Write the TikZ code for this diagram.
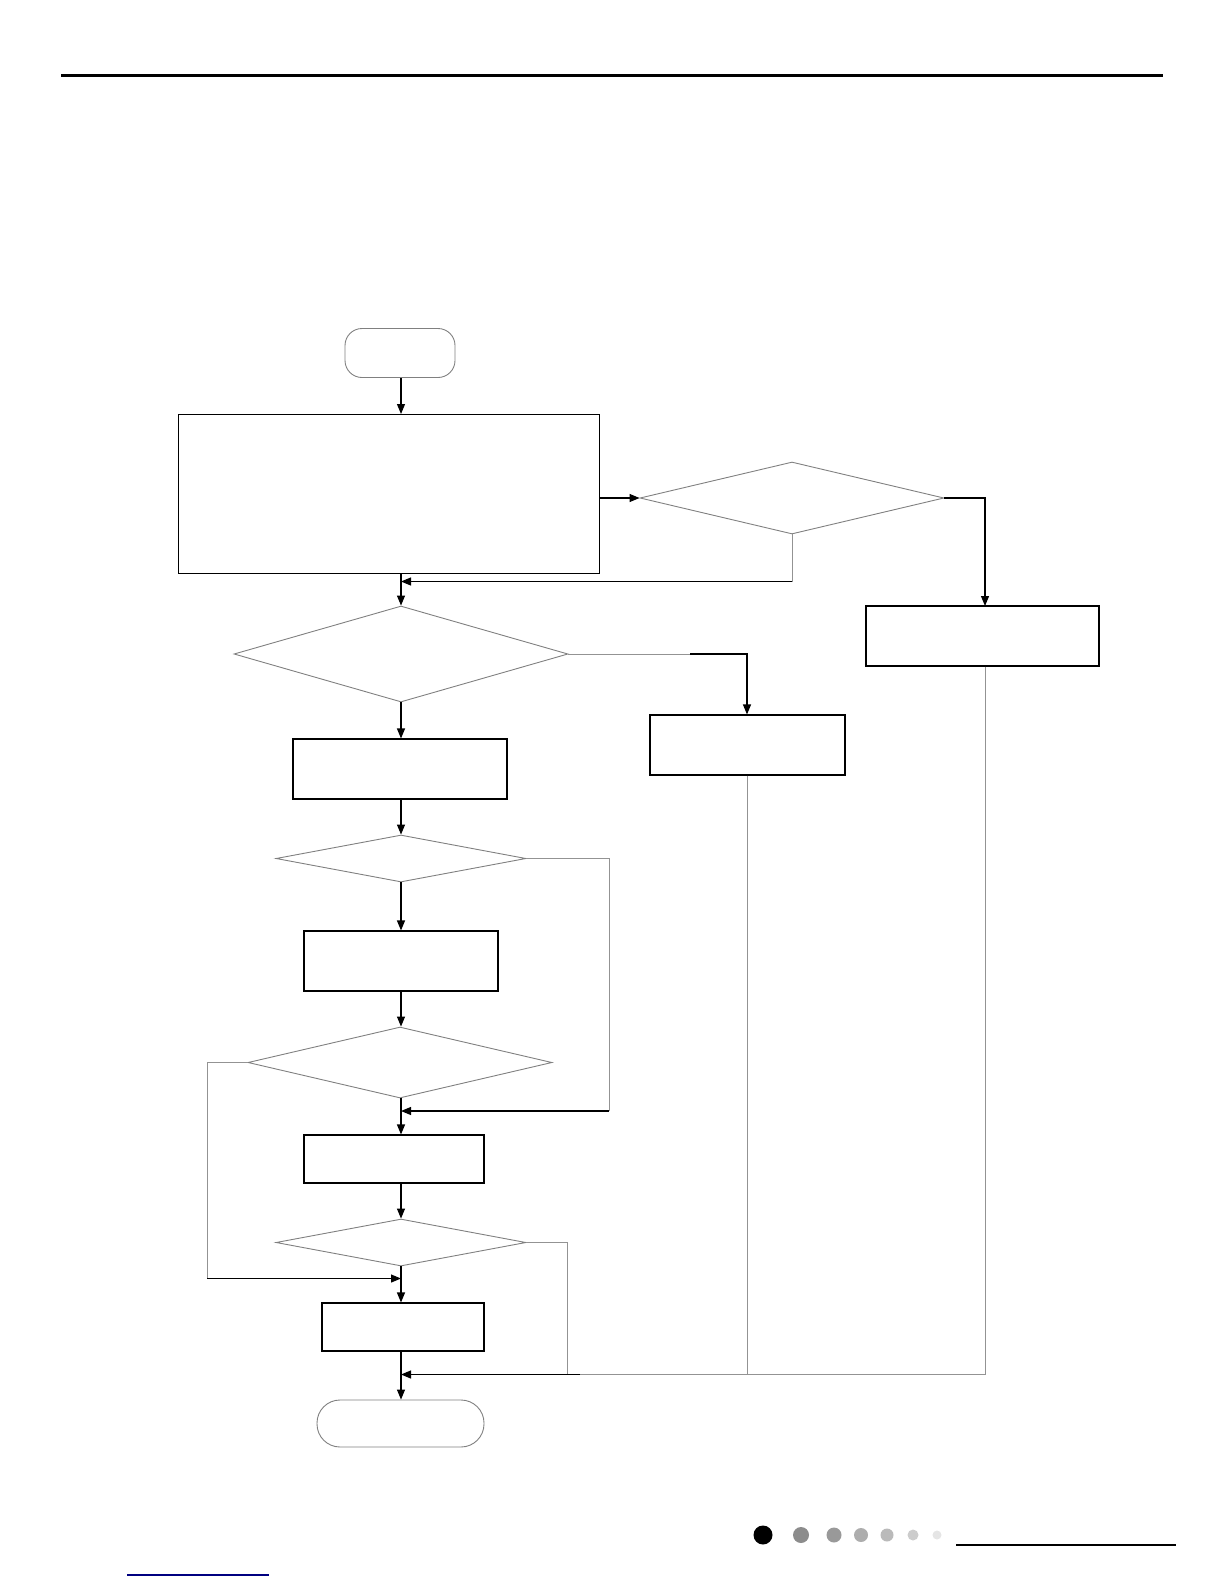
\documentclass[tikz,border=0pt]{standalone}
\usepackage{tikz}
\usetikzlibrary{shapes,arrows.meta,positioning,calc}

\begin{document}
\begin{tikzpicture}[x=1pt, y=-1pt, >={Triangle[length=10pt,width=8pt]},
    proc/.style={draw, rectangle, line width=1.1pt, inner sep=0pt},
    decision/.style={draw=gray, diamond, line width=0.9pt, inner sep=0pt},
    termin/.style={draw=gray, rectangle, line width=0.9pt, inner sep=0pt},
    flow/.style={->, line width=1.1pt},
    feed/.style={draw=gray!85, line width=1pt}]
    \useasboundingbox (0,0) rectangle (1224,1584);
    % page rules
    \draw[line width=3pt] (61,76) -- (1163,76);
    \draw[line width=2.2pt] (956,1545) -- (1176,1545);
    \draw[line width=1.2pt, color=blue!50!black] (127,1575) -- (269,1575);
    \foreach \px/\rr/\shade in {763/9.5/100, 801/8/45, 834/7.5/40, 861/7/32, 887/6.5/27, 913/5.5/20, 937/4.5/10}
        \fill[black!\shade] (\px,1535) circle (\rr);

    % nodes
    \node[termin, rounded corners=17pt, minimum width=110pt, minimum height=49pt] (start) at (400,353) {};
    \node[proc, line width=0.9pt, minimum width=421pt, minimum height=159pt] (init) at (388.5,493.5) {};
    \node[decision, minimum width=304pt, minimum height=72pt] (chkA) at (792,498) {};
    \node[proc, minimum width=233pt, minimum height=60pt] (actA) at (982.5,636) {};
    \node[decision, minimum width=334pt, minimum height=96pt] (chkB) at (401,654) {};
    \node[proc, minimum width=195pt, minimum height=60pt] (actB) at (747.5,745) {};
    \node[proc, minimum width=214pt, minimum height=60pt] (stepA) at (400,769) {};
    \node[decision, minimum width=250pt, minimum height=47pt] (chkC) at (401,858.5) {};
    \node[proc, minimum width=194pt, minimum height=60pt] (stepB) at (401,961) {};
    \node[decision, minimum width=304pt, minimum height=71pt] (chkD) at (400,1062.5) {};
    \node[proc, minimum width=180pt, minimum height=48pt] (stepC) at (394,1159) {};
    \node[decision, minimum width=250pt, minimum height=47pt] (chkE) at (401,1242.5) {};
    \node[proc, minimum width=162pt, minimum height=48pt] (stepD) at (403,1327) {};
    \node[termin, rounded corners=23pt, minimum width=167pt, minimum height=47pt] (stop) at (400.5,1423.5) {};

    % junction points
    \coordinate (jA) at (401,581.5);
    \coordinate (jC) at (401,1111);
    \coordinate (jD) at (401,1278.5);
    \coordinate (jE) at (401,1374.5);

    % main column
    \draw[flow] (401,378) -- (401,414);
    \draw[flow] (401,573) -- (chkB.north);
    \draw[flow] (chkB.south) -- (stepA.north -| chkB);
    \draw[flow] (401,799) -- (chkC.north);
    \draw[flow] (chkC.south) -- (stepB.north -| chkC);
    \draw[flow] (stepB.south -| chkC) -- (chkD.north -| chkC);
    \draw[flow] (chkD.south -| chkC) -- (stepC.north -| chkC);
    \draw[flow] (stepC.south -| chkC) -- (chkE.north);
    \draw[flow] (chkE.south) -- (stepD.north -| chkE);
    \draw[flow] (stepD.south -| chkE) -- (stop.north -| chkE);

    % side branches
    \draw[flow] (599,498) -- (chkA.west);
    \draw[flow] (chkA.east) -- (985,498) -- (985,606);
    \draw[feed] (chkA.south) -- (chkA.south |- jA);
    \draw[flow] (chkA.south |- jA) -- (jA);
    \draw[feed] (chkB.east) -- (690,654);
    \draw[flow] (690,654) -- (747,654) -- (actB.north -| 747,0);
    \draw[feed] (chkC.east) -- (609,858.5) -- (609,1111);
    \draw[flow] (609,1111) -- (jC);
    \draw[feed] (chkD.west) -- (207,1062.5) -- (207,1278.5);
    \draw[flow] (207,1278.5) -- (jD);
    \draw[feed] (chkE.east) -- (567.5,1242.5) -- (567.5,1374.5);
    \draw[feed] (actA.south -| 985,0) -- (985,1374.5) -- (747,1374.5);
    \draw[feed] (actB.south -| 747,0) -- (747,1374.5);
    \draw[feed] (747,1374.5) -- (580,1374.5);
    \draw[flow] (580,1374.5) -- (jE);
\end{tikzpicture}
\end{document}
